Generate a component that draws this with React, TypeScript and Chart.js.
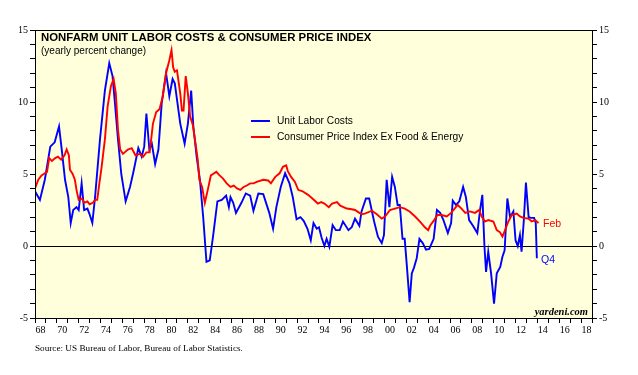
import React, { useEffect, useRef } from "react";
import { Chart, registerables } from "chart.js";

Chart.register(...registerables);

const TITLE = "NONFARM UNIT LABOR COSTS & CONSUMER PRICE INDEX";
const SUBTITLE = "(yearly percent change)";
const SOURCE = "Source: US Bureau of Labor, Bureau of Labor Statistics.";
const BRAND = "yardeni.com";
const legendLabels = ["Unit Labor Costs", "Consumer Price Index Ex Food & Energy"];
const endLabels = ["Q4", "Feb"];

const xMin = 1968;
const xMax = 2019;
const yMin = -5;
const yMax = 15;

// Unit labor costs (blue)
const ulcYears = [
  1968.0, 1968.45, 1968.9, 1969.4, 1969.8, 1970.2, 1970.45, 1970.75, 1971.05, 1971.27,
  1971.5, 1971.8, 1972.0, 1972.27, 1972.5, 1972.8, 1973.0, 1973.25, 1973.5, 1973.95,
  1974.4, 1974.8, 1975.1, 1975.3, 1975.6, 1975.9, 1976.3, 1976.7, 1977.0, 1977.46,
  1977.77, 1978.0, 1978.2, 1978.47, 1978.7, 1979.0, 1979.3, 1979.6, 1980.0, 1980.3,
  1980.6, 1980.8, 1981.3, 1981.7, 1982.0, 1982.3, 1982.5, 1982.8, 1983.1, 1983.4,
  1983.7, 1984.0, 1984.3, 1984.7, 1985.1, 1985.5, 1985.75, 1985.9, 1986.15, 1986.4,
  1986.9, 1987.3, 1987.7, 1988.0, 1988.45, 1988.9, 1989.45, 1989.8, 1990.1, 1990.5,
  1990.9, 1991.3, 1991.6, 1991.95, 1992.3, 1992.6, 1992.95, 1993.25, 1993.5, 1993.8,
  1994.0, 1994.25, 1994.5, 1994.7, 1994.95, 1995.25, 1995.55, 1995.9, 1996.2, 1996.7,
  1997.0, 1997.3, 1997.7, 1997.9, 1998.3, 1998.6, 1999.05, 1999.4, 1999.75, 1999.95,
  2000.2, 2000.45, 2000.7, 2000.95, 2001.2, 2001.4, 2001.65, 2001.85, 2002.05, 2002.3,
  2002.5, 2002.7, 2002.95, 2003.2, 2003.5, 2003.8, 2004.1, 2004.5, 2004.8, 2005.1,
  2005.4, 2005.8, 2006.1, 2006.25, 2006.55, 2006.85, 2007.2, 2007.45, 2007.75, 2008.1,
  2008.5, 2008.75, 2008.96, 2009.15, 2009.3, 2009.5, 2009.76, 2010.03, 2010.28, 2010.6,
  2010.8, 2011.0, 2011.25, 2011.5, 2011.8, 2012.0, 2012.2, 2012.4, 2012.55, 2012.75,
  2012.95, 2013.2, 2013.4, 2013.7, 2013.85, 2013.95,
];
const ulcValues = [
  3.8, 3.2, 4.6, 6.9, 7.2, 8.3, 6.7, 4.6, 3.4, 1.6,
  2.5, 2.7, 2.5, 4.35, 2.5, 2.6, 2.2, 1.6, 3.4, 7.4,
  10.8, 12.7, 11.8, 10.1, 7.4, 5.0, 3.1, 4.1, 5.1, 6.8,
  6.2, 6.9, 9.2, 6.7, 7.1, 5.7, 6.7, 9.9, 12.0, 10.4,
  11.6, 11.3, 8.5, 7.1, 8.5, 10.8, 8.3, 6.2, 4.6, 2.0,
  -1.1, -1.0, 0.65, 3.1, 3.2, 3.5, 2.7, 3.4, 3.0, 2.3,
  3.0, 3.65, 3.5, 2.45, 3.65, 3.6, 2.3, 1.2, 2.7, 4.1,
  5.05, 4.35, 3.4, 1.85, 2.0, 1.75, 1.2, 0.4, 1.6, 1.2,
  1.3, 0.55, 0.0, 0.5, -0.05, 1.45, 1.1, 1.1, 1.7, 1.1,
  1.3, 1.9, 1.4, 2.4, 3.3, 3.3, 1.7, 0.65, 0.2, 0.75,
  4.6, 2.7, 4.8, 4.1, 2.85, 2.85, 0.5, 0.5, -1.4, -3.9,
  -1.9, -1.5, -0.85, 0.5, 0.2, -0.25, -0.2, 0.5, 2.5, 2.3,
  1.8, 0.9, 1.6, 3.15, 2.85, 3.1, 4.1, 3.4, 1.8, 1.4,
  0.9, 2.5, 3.55, 0.0, -1.8, -0.4, -1.9, -4.0, -1.9, -1.45,
  -0.75, -0.3, 3.3, 2.0, 2.4, 0.4, 0.0, 0.75, -0.4, 1.7,
  4.4, 2.0, 1.95, 1.95, 1.6, -0.85,
];

// CPI ex food & energy (red)
const cpiYears = [
  1968.0, 1968.3, 1968.6, 1968.8, 1969.1, 1969.3, 1969.55, 1969.85, 1970.1, 1970.4,
  1970.7, 1970.9, 1971.1, 1971.2, 1971.45, 1971.65, 1971.8, 1972.0, 1972.3, 1972.5,
  1972.8, 1973.0, 1973.3, 1973.5, 1973.7, 1973.85, 1974.1, 1974.4, 1974.65, 1974.95,
  1975.2, 1975.4, 1975.6, 1975.8, 1976.05, 1976.5, 1976.85, 1977.2, 1977.6, 1977.9,
  1978.2, 1978.5, 1978.8, 1979.1, 1979.4, 1979.7, 1980.0, 1980.3, 1980.5, 1980.65,
  1980.8, 1981.0, 1981.3, 1981.45, 1981.6, 1981.8, 1982.0, 1982.2, 1982.45, 1982.7,
  1982.9, 1983.05, 1983.3, 1983.55, 1983.85, 1984.1, 1984.3, 1984.6, 1984.9, 1985.2,
  1985.55, 1985.9, 1986.2, 1986.5, 1986.8, 1987.1, 1987.4, 1987.7, 1988.0, 1988.3,
  1988.9, 1989.35, 1989.6, 1990.0, 1990.4, 1990.7, 1991.0, 1991.15, 1991.45, 1991.8,
  1992.1, 1992.5, 1993.0, 1993.4, 1993.9, 1994.2, 1994.5, 1994.9, 1995.2, 1995.65,
  1995.95, 1996.55, 1997.0, 1997.3, 1997.6, 1997.9, 1998.2, 1998.85, 1999.3, 1999.75,
  2000.05, 2000.5, 2000.95, 2001.4, 2001.85, 2002.3, 2002.8, 2003.25, 2003.7, 2004.0,
  2004.2, 2004.55, 2004.85, 2005.25, 2005.7, 2006.1, 2006.7, 2007.05, 2007.4, 2007.83,
  2008.29, 2008.66, 2008.9, 2009.2, 2009.5, 2009.97, 2010.28, 2010.58, 2010.8, 2011.04,
  2011.34, 2011.65, 2012.1, 2012.41, 2012.72, 2013.17, 2013.48, 2013.79, 2014.1,
];
const cpiValues = [
  4.0, 4.6, 4.9, 5.0, 5.15, 6.1, 5.9, 6.1, 6.2, 6.0,
  6.3, 6.7, 6.3, 5.3, 5.0, 4.6, 3.9, 3.2, 3.3, 3.0,
  3.1, 2.9, 3.0, 3.2, 3.2, 4.1, 5.5, 7.4, 9.7, 11.1,
  11.6, 10.6, 8.05, 6.7, 6.4, 6.7, 6.8, 6.3, 6.4, 6.2,
  6.5, 6.5, 8.5, 9.3, 9.5, 10.4, 12.0, 12.9, 13.6, 12.4,
  12.1, 12.2, 10.6, 9.4, 9.4, 11.8, 10.6, 9.0, 8.4, 7.1,
  6.0, 4.6, 4.1, 3.0, 4.0, 4.9, 5.0, 5.15, 4.9, 4.7,
  4.35, 4.1, 4.2, 4.0, 3.9, 4.1, 4.2, 4.35, 4.35, 4.45,
  4.6, 4.55, 4.35, 4.8, 5.05, 5.5, 5.6, 5.2, 4.8, 4.45,
  3.9, 3.8, 3.55, 3.3, 2.95, 3.05, 2.95, 2.7, 2.95, 3.05,
  2.8, 2.6, 2.55, 2.5, 2.35, 2.2, 2.25, 2.45, 2.2, 1.9,
  2.05, 2.5, 2.6, 2.7, 2.6, 2.4, 2.05, 1.7, 1.3, 1.1,
  1.45, 1.8, 2.15, 2.15, 2.05, 2.3, 2.85, 2.6, 2.3, 2.4,
  2.3, 2.5, 2.05, 1.7, 1.8, 1.7, 1.1, 0.95, 0.65, 1.1,
  1.7, 2.15, 2.25, 2.05, 1.95, 1.9, 1.7, 1.8, 1.6,
];

const BLUE = "#0000ff";
const RED = "#ff0000";
const SANS = '"Liberation Sans", Arial, sans-serif';
const SERIF = '"Liberation Serif", "Times New Roman", serif';

const decorPlugin = {
  id: "decor",
  beforeDraw(chart: any) {
    const { ctx, chartArea: a } = chart;
    ctx.save();
    ctx.fillStyle = "#ffffff";
    ctx.fillRect(0, 0, chart.width, chart.height);
    ctx.fillStyle = "#ffffdc";
    ctx.fillRect(a.left, a.top, a.right - a.left, a.bottom - a.top);
    ctx.restore();
  },
  beforeDatasetsDraw(chart: any) {
    const { ctx, chartArea: a, scales } = chart;
    const y0 = Math.round(scales.y.getPixelForValue(0)) + 0.5;
    ctx.save();
    ctx.strokeStyle = "#000";
    ctx.lineWidth = 1;
    ctx.beginPath();
    ctx.moveTo(a.left, y0);
    ctx.lineTo(a.right, y0);
    ctx.stroke();
    ctx.restore();
  },
  afterDraw(chart: any) {
    const { ctx, chartArea: a, scales } = chart;
    ctx.save();
    ctx.strokeStyle = "#000";
    ctx.lineWidth = 1;
    ctx.strokeRect(Math.round(a.left) + 0.5, Math.round(a.top) + 0.5, Math.round(a.right - a.left), Math.round(a.bottom - a.top));

    ctx.fillStyle = "#000";
    ctx.textBaseline = "alphabetic";
    ctx.textAlign = "left";
    ctx.font = `bold 11.4px ${SANS}`;
    ctx.fillText(TITLE, 41, 41);
    ctx.font = `10px ${SANS}`;
    ctx.fillText(SUBTITLE, 41, 54);

    // legend
    const lx = 251;
    const colors = [BLUE, RED];
    const ly = [121, 137];
    ctx.lineWidth = 2;
    legendLabels.forEach((t, i) => {
      ctx.strokeStyle = colors[i];
      ctx.beginPath();
      ctx.moveTo(lx, ly[i]);
      ctx.lineTo(lx + 19, ly[i]);
      ctx.stroke();
      ctx.fillStyle = "#000";
      ctx.font = `10.2px ${SANS}`;
      ctx.textBaseline = "middle";
      ctx.fillText(t, 277, ly[i]);
    });

    // end labels
    const lastU = ulcValues[ulcValues.length - 1];
    const lastC = cpiValues[cpiValues.length - 1];
    ctx.font = `10.5px ${SANS}`;
    ctx.textBaseline = "middle";
    ctx.fillStyle = BLUE;
    ctx.fillText(endLabels[0], 541, scales.y.getPixelForValue(lastU) + 2);
    ctx.fillStyle = RED;
    ctx.fillText(endLabels[1], 543, scales.y.getPixelForValue(lastC) + 1);

    // brand
    ctx.fillStyle = "#000";
    ctx.font = `italic bold 10.5px ${SERIF}`;
    ctx.textAlign = "right";
    ctx.textBaseline = "alphabetic";
    ctx.fillText(BRAND, a.right - 4, a.bottom - 3);

    // source
    ctx.textAlign = "left";
    ctx.font = `9.2px ${SERIF}`;
    ctx.fillText(SOURCE, 35, 351);
    ctx.restore();
  },
};

const yTickCallback = (v: any) => (Number(v) % 5 === 0 ? String(v) : "");

export default function App() {
  const ref = useRef<HTMLCanvasElement | null>(null);
  useEffect(() => {
    if (!ref.current) return;
    const ulcPoints = ulcYears.map((x, i) => ({ x, y: ulcValues[i] }));
    const cpiPoints = cpiYears.map((x, i) => ({ x, y: cpiValues[i] }));
    const yAxisCommon = {
      min: yMin,
      max: yMax,
      ticks: {
        stepSize: 1,
        autoSkip: false,
        callback: yTickCallback,
        color: "#000",
        font: { family: SERIF, size: 10 },
        padding: 2,
      },
      grid: { drawOnChartArea: false, drawTicks: true, tickLength: 5, color: "#000" },
      border: { display: true, color: "#000" },
    };
    const chart = new Chart(ref.current, {
      type: "line",
      data: {
        datasets: [
          {
            label: legendLabels[1],
            data: cpiPoints,
            borderColor: RED,
            borderWidth: 1.9,
            pointRadius: 0,
            tension: 0,
          },
          {
            label: legendLabels[0],
            data: ulcPoints,
            borderColor: BLUE,
            borderWidth: 1.9,
            pointRadius: 0,
            tension: 0,
          },
        ],
      },
      options: {
        responsive: false,
        animation: false,
        parsing: true,
        layout: { padding: { top: 30, bottom: 37, left: 0, right: 0 } },
        plugins: { legend: { display: false }, tooltip: { enabled: false }, title: { display: false } },
        scales: {
          x: {
            type: "linear",
            min: xMin,
            max: xMax,
            afterFit: (s: any) => {
              s.height = 20;
            },
            ticks: {
              stepSize: 1,
              autoSkip: false,
              maxRotation: 0,
              labelOffset: 5.46,
              callback: (v: any) => {
                const n = Number(v);
                if (n % 2 !== 0 || n >= xMax) return "";
                return String(n % 100).padStart(2, "0");
              },
              color: "#000",
              font: { family: SERIF, size: 10 },
              padding: 1,
            },
            grid: { drawOnChartArea: false, drawTicks: true, tickLength: 5, color: "#000" },
            border: { display: true, color: "#000" },
          },
          y: {
            ...yAxisCommon,
            position: "left",
            afterFit: (s: any) => {
              s.width = 35;
            },
          },
          y2: {
            ...yAxisCommon,
            position: "right",
            afterFit: (s: any) => {
              s.width = 46;
            },
          },
        },
      } as any,
      plugins: [decorPlugin],
    });
    return () => chart.destroy();
  }, []);
  return (
    <div style={{ position: "absolute", left: 0, top: 0, width: 638, height: 375, background: "#fff" }}>
      <canvas ref={ref} width={638} height={375} style={{ width: 638, height: 375 }} />
    </div>
  );
}
